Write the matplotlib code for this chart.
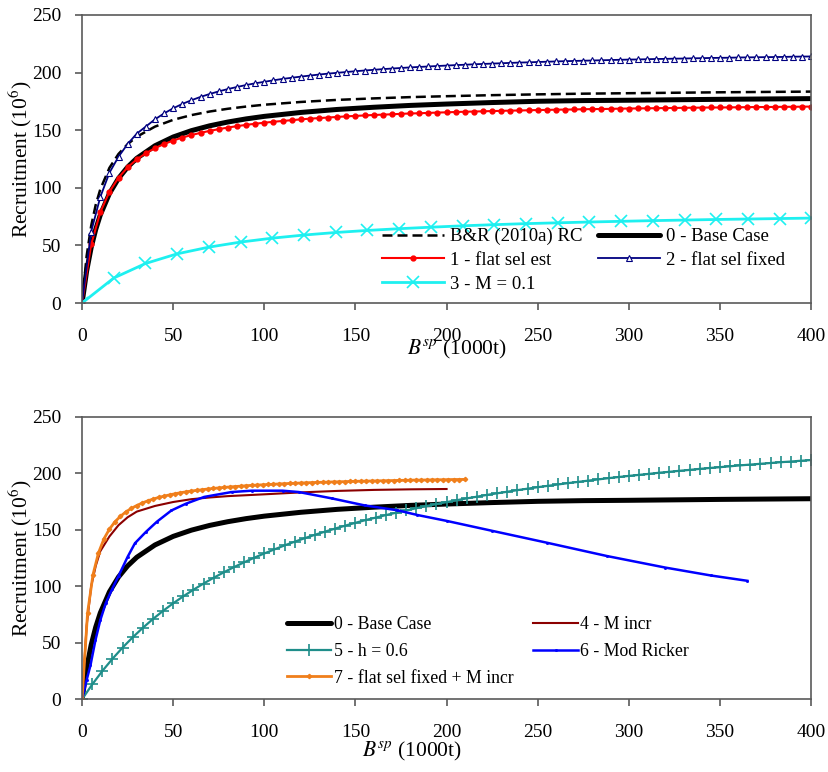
import numpy as np
import matplotlib
matplotlib.use("Agg")
import matplotlib.pyplot as plt

plt.rcParams["font.family"] = ["Liberation Serif", "DejaVu Serif"]
plt.rcParams["mathtext.fontset"] = "stix"

# ---- top panel data (Bsp in 1000t, recruitment in 10^6) ----
base_x = [0, 2.5, 5, 7.5, 10, 15, 20, 25, 30, 40, 50, 60, 70, 80, 90, 100,
          120, 140, 160, 180, 200, 225, 250, 275, 300, 325, 350, 375, 400]
base_y = [0, 27.7, 48.2, 63.9, 76.4, 95.0, 108.2, 118.0, 125.6, 136.5, 144.1,
          149.6, 153.8, 157.1, 159.8, 162.0, 165.4, 168.0, 169.9, 171.5, 172.7,
          174.0, 175.1, 175.7, 176.0, 176.4, 176.8, 177.1, 177.4]
br_y = [0, 40.8, 67.0, 85.3, 98.7, 117.3, 129.4, 137.9, 144.3, 153.1, 159.0,
        163.1, 166.2, 168.6, 170.5, 172.1, 174.5, 176.3, 177.6, 178.7, 179.5,
        180.4, 181.1, 181.7, 182.1, 182.5, 182.9, 183.2, 183.5]

sel_x = list(range(0, 401, 5))
flat_est_y = [0, 50.8, 78.8, 96.5, 108.8, 117.8, 124.6, 130.0, 134.4, 138.0,
              141.0, 143.6, 145.8, 147.7, 149.4, 150.9, 152.3, 153.5, 154.6,
              155.6, 156.5, 157.3, 158.0, 158.7, 159.4, 160.0, 160.5, 161.0,
              161.5, 162.0, 162.4, 162.8, 163.2, 163.5, 163.8, 164.2, 164.5,
              164.7, 165.0, 165.3, 165.5, 165.8, 166.0, 166.2, 166.4, 166.6,
              166.8, 167.0, 167.1, 167.3, 167.5, 167.6, 167.8, 167.9, 168.0,
              168.2, 168.3, 168.4, 168.5, 168.7, 168.8, 168.9, 169.0, 169.1,
              169.2, 169.3, 169.4, 169.5, 169.6, 169.7, 169.7, 169.8, 169.9,
              170.0, 170.1, 170.1, 170.2, 170.3, 170.3, 170.4, 170.5]
flat_fixed_y = [0, 62.0, 92.0, 113.0, 127.0, 138.0, 147.0, 153.2, 159.4, 164.6,
                169.0, 172.8, 176.0, 178.9, 181.4, 183.7, 185.7, 187.5, 189.2,
                190.7, 192.0, 193.3, 194.5, 195.5, 196.5, 197.4, 198.3, 199.1,
                199.8, 200.5, 201.2, 201.8, 202.4, 203.0, 203.5, 204.0, 204.5,
                204.9, 205.3, 205.7, 206.1, 206.5, 206.8, 207.2, 207.5, 207.8,
                208.1, 208.4, 208.7, 208.9, 209.2, 209.4, 209.7, 209.9, 210.1,
                210.3, 210.5, 210.7, 210.9, 211.1, 211.3, 211.4, 211.6, 211.8,
                211.9, 212.1, 212.2, 212.4, 212.5, 212.7, 212.8, 212.9, 213.1,
                213.2, 213.3, 213.4, 213.5, 213.6, 213.8, 213.9, 214.0]

m01_x = [round(i * 17.4, 1) for i in range(23)] + [400]
m01_y = [0, 21.7, 34.3, 42.7, 48.5, 52.9, 56.3, 59.0, 61.2, 63.0, 64.5, 65.8,
         67.0, 68.0, 68.9, 69.6, 70.3, 70.9, 71.5, 72.0, 72.5, 72.9, 73.3, 73.7]

# ---- bottom panel data ----
m_incr_x = [0, 2.5, 5, 7.5, 10, 15, 20, 25, 30, 40, 50, 60, 70, 80, 90, 100,
            120, 140, 160, 180, 200]
m_incr_y = [0, 65, 100, 118, 131, 144, 154, 161, 166, 171, 174.5, 177, 178.5,
            179.7, 180.5, 181.3, 183, 184.3, 185.2, 185.7, 186]

h06_x = [round(i * 400 / 72, 2) for i in range(73)]
h06_y = [0, 13.1, 25.0, 35.8, 45.7, 54.8, 63.2, 71.0, 78.2, 84.9, 91.1, 96.9,
         102.4, 107.5, 112.3, 116.9, 121.1, 125.2, 129.0, 132.6, 136.1, 139.4,
         142.5, 145.5, 148.3, 151.0, 153.6, 156.1, 158.5, 160.7, 162.9, 165.0,
         167.0, 169.0, 170.9, 172.7, 174.4, 176.1, 177.7, 179.2, 180.8, 182.2,
         183.6, 185.0, 186.3, 187.6, 188.8, 190.0, 191.2, 192.3, 193.4, 194.5,
         195.6, 196.6, 197.6, 198.5, 199.4, 200.4, 201.2, 202.1, 202.9, 203.8,
         204.6, 205.3, 206.1, 206.9, 207.6, 208.3, 209.0, 209.7, 210.3, 211.0,
         211.6]

ricker_x = [0, 2.5, 4.6, 7.3, 10, 13, 16.5, 20, 25, 29, 35, 41, 49, 57, 67, 82,
            93, 110, 119, 137, 155, 173, 184, 200, 225, 255, 288, 320, 345, 365]
ricker_y = [0, 17, 30, 52, 70, 85, 97.5, 109, 126, 138, 148, 157, 167, 173,
            179, 183.3, 184.5, 184.5, 183.3, 177.7, 171.5, 167.2, 163, 157.8,
            149, 138.5, 126.7, 116.5, 109.5, 104.8]

fixed_m_x = list(range(0, 211, 3))
fixed_m_y = [0, 76.2, 110.3, 129.5, 141.9, 150.5, 156.9, 161.8, 165.7, 168.8,
             171.4, 173.6, 175.5, 177.1, 178.5, 179.7, 180.8, 181.8, 182.7,
             183.5, 184.2, 184.8, 185.4, 186.0, 186.5, 187.0, 187.4, 187.8,
             188.2, 188.5, 188.9, 189.2, 189.5, 189.7, 190.0, 190.2, 190.5,
             190.7, 190.9, 191.1, 191.3, 191.5, 191.7, 191.8, 192.0, 192.1,
             192.3, 192.4, 192.5, 192.7, 192.8, 192.9, 193.0, 193.1, 193.2,
             193.3, 193.4, 193.5, 193.6, 193.7, 193.8, 193.9, 193.9, 194.0,
             194.1, 194.2, 194.2, 194.3, 194.4, 194.4, 194.5]

SPINE = "#5a5a5a"
FS_TICK = 14
FS_LAB = 15.5


def style_axes(ax, xlab_x, xlab_y):
    ax.set_xlim(0, 400)
    ax.set_ylim(0, 250)
    ax.set_xticks(range(0, 401, 50))
    ax.set_yticks(range(0, 251, 50))
    for s in ax.spines.values():
        s.set_color(SPINE)
        s.set_linewidth(1.2)
    ax.tick_params(axis="x", direction="out", length=5, width=1.2,
                   color=SPINE, pad=13, labelsize=FS_TICK)
    ax.tick_params(axis="y", direction="out", length=5, width=1.2,
                   color=SPINE, pad=10, labelsize=FS_TICK)
    ax.set_ylabel("Recruitment (10$^6$)", fontsize=FS_LAB)
    ax.yaxis.set_label_coords(-0.066, 0.5)
    ax.set_xlabel("$B^{sp}$ (1000t)", fontsize=FS_LAB)
    ax.xaxis.set_label_coords(xlab_x, xlab_y)


fig = plt.figure(figsize=(8.29, 7.72), dpi=100)
ax1 = fig.add_axes([0.099, 0.6075, 0.8794, 0.3731])
ax2 = fig.add_axes([0.099, 0.0942, 0.8794, 0.3661])

# top panel
l_br, = ax1.plot(base_x, br_y, color="black", lw=1.8, ls=(0, (4, 2)),
                 label="B&R (2010a) RC")
l_base, = ax1.plot(base_x, base_y, color="black", lw=3.6,
                   solid_capstyle="round", label="0 - Base Case")
l_est, = ax1.plot(sel_x, flat_est_y, color="#ff0000", lw=1.5, marker="o",
                  ms=3.5, label="1 - flat sel est")
l_fix, = ax1.plot(sel_x, flat_fixed_y, color="#000080", lw=1.3, marker="^",
                  ms=4, mfc="white", mec="#000080", mew=0.8,
                  label="2 - flat sel fixed")
l_m01, = ax1.plot(m01_x, m01_y, color="#1ef0f0", lw=2.0, marker="x", ms=9,
                  mew=1.2, label="3 - M = 0.1")
style_axes(ax1, 0.514, -0.12)
ax1.legend(handles=[l_br, l_est, l_m01, l_base, l_fix], ncol=2,
           loc="upper left", bbox_to_anchor=(382 / 829, 1 - 228 / 772),
           bbox_transform=fig.transFigure, frameon=False, fontsize=13.5,
           handlelength=3.3, handletextpad=0.35, labelspacing=0.35,
           columnspacing=0.8, borderpad=0, borderaxespad=0)

# bottom panel
b_base, = ax2.plot(base_x, base_y, color="black", lw=3.6,
                   solid_capstyle="round", label="0 - Base Case")
b_mi, = ax2.plot(m_incr_x, m_incr_y, color="#8b0000", lw=1.5,
                 label="4 - M incr")
b_h, = ax2.plot(h06_x, h06_y, color="#1f8e8a", lw=1.6, marker="+", ms=9,
                mew=1.2, label="5 - h = 0.6")
b_rk, = ax2.plot(ricker_x, ricker_y, color="#0000ff", lw=1.8, marker="s",
                 ms=1.0, label="6 - Mod Ricker")
b_fm, = ax2.plot(fixed_m_x, fixed_m_y, color="#f07f1b", lw=2.0, marker="D",
                 ms=2.2, label="7 - flat sel fixed + M incr")
style_axes(ax2, 0.452, -0.144)
ax2.legend(handles=[b_base, b_h, b_fm, b_mi, b_rk], ncol=2,
           loc="upper left", bbox_to_anchor=(287 / 829, 1 - 616 / 772),
           bbox_transform=fig.transFigure, frameon=False, fontsize=12.8,
           handlelength=2.5, handletextpad=0.15, labelspacing=0.55,
           columnspacing=1.1, borderpad=0, borderaxespad=0)

fig.savefig("out.png", dpi=100)
